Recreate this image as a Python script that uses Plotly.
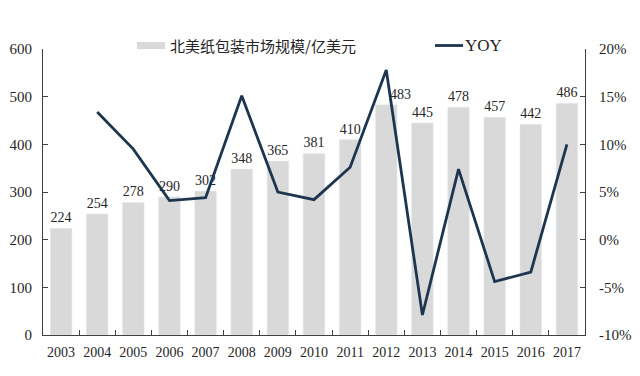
import plotly.graph_objects as go

years = ["2003", "2004", "2005", "2006", "2007", "2008", "2009", "2010",
         "2011", "2012", "2013", "2014", "2015", "2016", "2017"]
market = [224, 254, 278, 290, 302, 348, 365, 381, 410, 483, 445, 478, 457, 442, 486]
yoy = [None, 13.4, 9.5, 4.1, 4.4, 15.1, 5.0, 4.2, 7.6, 17.8, -7.9, 7.4, -4.4, -3.4, 10.0]
yoy_ticks = [-10, -5, 0, 5, 10, 15, 20]

bar_name = "北美纸包装市场规模/亿美元"
line_name = "YOY"

BAR_COLOR = "#d9d9d9"
LINE_COLOR = "#1e3550"
TXT = "#262626"
AXC = "#404040"
SERIF = "Liberation Serif, Times New Roman, serif"
CJK = "Noto Sans CJK SC, sans-serif"

shift_label = "2012"
bar_text = [str(v) if y != shift_label else "" for y, v in zip(years, market)]

fig = go.Figure()
fig.add_trace(go.Bar(
    x=years, y=market, name=bar_name, marker_color=BAR_COLOR,
    text=bar_text, textposition="outside", constraintext="none",
    textfont=dict(family=SERIF, size=14, color=TXT), cliponaxis=False,
    showlegend=False,
))
fig.add_trace(go.Scatter(
    x=years, y=yoy, name=line_name, yaxis="y2", mode="lines",
    line=dict(color=LINE_COLOR, width=2.8), showlegend=False,
))

annotations = []
for i, (y, v) in enumerate(zip(years, market)):
    if y == shift_label:
        annotations.append(dict(x=i, y=v, xref="x", yref="y", text=str(v),
                                showarrow=False, xshift=14, yshift=1, yanchor="bottom",
                                font=dict(family=SERIF, size=14, color=TXT)))

# manual legend
shapes = [
    dict(type="rect", xref="paper", yref="paper", x0=0.1734, x1=0.2251,
         y0=1.0, y1=1.0245, fillcolor=BAR_COLOR, line=dict(width=0)),
    dict(type="line", xref="paper", yref="paper", x0=0.7232, x1=0.7749,
         y0=1.0122, y1=1.0122, line=dict(color=LINE_COLOR, width=2.8)),
]
annotations.append(dict(x=0.2306, y=1.0122, xref="paper", yref="paper", text=bar_name,
                        showarrow=False, xanchor="left", yanchor="middle",
                        font=dict(family=CJK, size=15, color=TXT)))
annotations.append(dict(x=0.7749, y=1.0122, xref="paper", yref="paper", text=line_name,
                        showarrow=False, xanchor="left", yanchor="middle",
                        font=dict(family=SERIF, size=17, color=TXT)))

fig.update_layout(
    width=640, height=376,
    margin=dict(l=35, r=63, t=41, b=49),
    paper_bgcolor="white", plot_bgcolor="white",
    bargap=0.4,
    shapes=shapes, annotations=annotations,
    xaxis=dict(type="category", range=[-0.5, len(years) - 0.5], showline=True,
               linecolor=AXC, linewidth=1, tickangle=0, automargin=False,
               ticks="inside", tickson="boundaries", ticklen=5, tickcolor=AXC,
               ticklabelstandoff=4,
               showgrid=False, tickfont=dict(family=SERIF, size=14, color=TXT)),
    yaxis=dict(range=[0, 600], dtick=100, showline=True, linecolor=AXC, linewidth=1,
               ticks="inside", ticklen=5, tickcolor=AXC, showgrid=False, zeroline=False,
               ticklabelstandoff=7,
               automargin=False, tickfont=dict(family=SERIF, size=15, color=TXT)),
    yaxis2=dict(range=[-10, 20], tickmode="array", tickvals=yoy_ticks,
                ticktext=[f"{t}%" for t in yoy_ticks], overlaying="y", side="right",
                showline=True, linecolor=AXC, linewidth=1, ticks="inside", ticklen=5,
                tickcolor=AXC, showgrid=False, zeroline=False, automargin=False,
                ticklabelstandoff=10,
                tickfont=dict(family=SERIF, size=15, color=TXT)),
)

fig.write_html("out.html")
